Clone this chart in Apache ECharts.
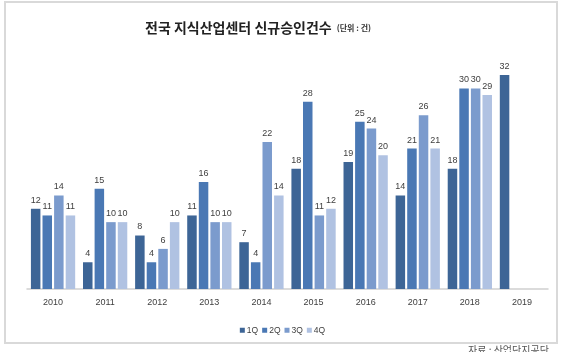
<!DOCTYPE html>
<html>
<head>
<meta charset="utf-8">
<script src="https://cdn.jsdelivr.net/npm/echarts@6/dist/echarts.min.js"></script>
<style>
  html, body { margin: 0; padding: 0; background: #fff; }
  #chart { width: 565px; height: 352px; }
</style>
</head>
<body>
<div id="chart"></div>
<script>
// 연도
const years = ['2010', '2011', '2012', '2013', '2014', '2015', '2016', '2017', '2018', '2019']
// 분기별 신규승인건수
const q1 = [12, 4, 8, 11, 7, 18, 19, 14, 18, 32]
const q2 = [11, 15, 4, 16, 4, 28, 25, 21, 30, null]
const q3 = [14, 10, 6, 10, 22, 11, 24, 26, 30, null]
const q4 = [11, 10, 10, 10, 14, 12, 20, 21, 29, null]
const quarterNames = ['1Q', '2Q', '3Q', '4Q']
const colors = ['#3d6596', '#4a78b4', '#7b9bcd', '#b0c2e2']

const font = '"Liberation Sans", "Noto Sans CJK KR", sans-serif'
const chart = echarts.init(document.getElementById('chart'))

const series = [q1, q2, q3, q4].map((data, i) => ({
  name: quarterNames[i],
  type: 'bar',
  data: data,
  barWidth: 9.5,
  barGap: '22%',
  itemStyle: { color: colors[i] },
  label: {
    show: true,
    position: 'top',
    distance: 4,
    color: '#404040',
    fontSize: 9,
    fontFamily: font
  }
}))

chart.setOption({
  animation: false,
  textStyle: { fontFamily: font },
  title: {
    text: '{main|전국 지식산업센터 신규승인건수} {unit|(단위 : 건)}',
    left: 140,
    top: 14,
    textStyle: {
      rich: {
        main: { fontSize: 14, fontWeight: 'bold', color: '#222', fontFamily: '"Noto Sans CJK KR", sans-serif' },
        unit: { fontSize: 8, fontWeight: 'bold', color: '#333', fontFamily: '"Noto Sans CJK KR", sans-serif' }
      }
    }
  },
  legend: {
    data: quarterNames,
    top: 321,
    left: 'center',
    itemWidth: 5,
    itemHeight: 5,
    itemGap: 4,
    icon: 'rect',
    textStyle: { fontSize: 8.5, color: '#404040', padding: [0, 0, 0, -3] }
  },
  grid: { left: 27, right: 17, top: 55, height: 234 },
  xAxis: {
    type: 'category',
    data: years,
    axisLine: { lineStyle: { color: '#d0d0d0', width: 1.5 } },
    axisTick: { show: false },
    axisLabel: { color: '#404040', fontSize: 9, margin: 9 }
  },
  yAxis: {
    type: 'value',
    min: 0,
    max: 35,
    show: false,
    splitLine: { show: false }
  },
  graphic: [
    {
      type: 'rect',
      shape: { x: 5, y: 2, width: 552, height: 341 },
      style: { fill: 'none', stroke: '#d9d9d9', lineWidth: 2 },
      z: -1
    },
    {
      type: 'text',
      left: 468,
      top: 345,
      style: { text: '자료 : 산업단지공단', fontSize: 10, fill: '#555', fontFamily: '"Noto Sans CJK KR", sans-serif' }
    }
  ],
  series: series
})
</script>
</body>
</html>
